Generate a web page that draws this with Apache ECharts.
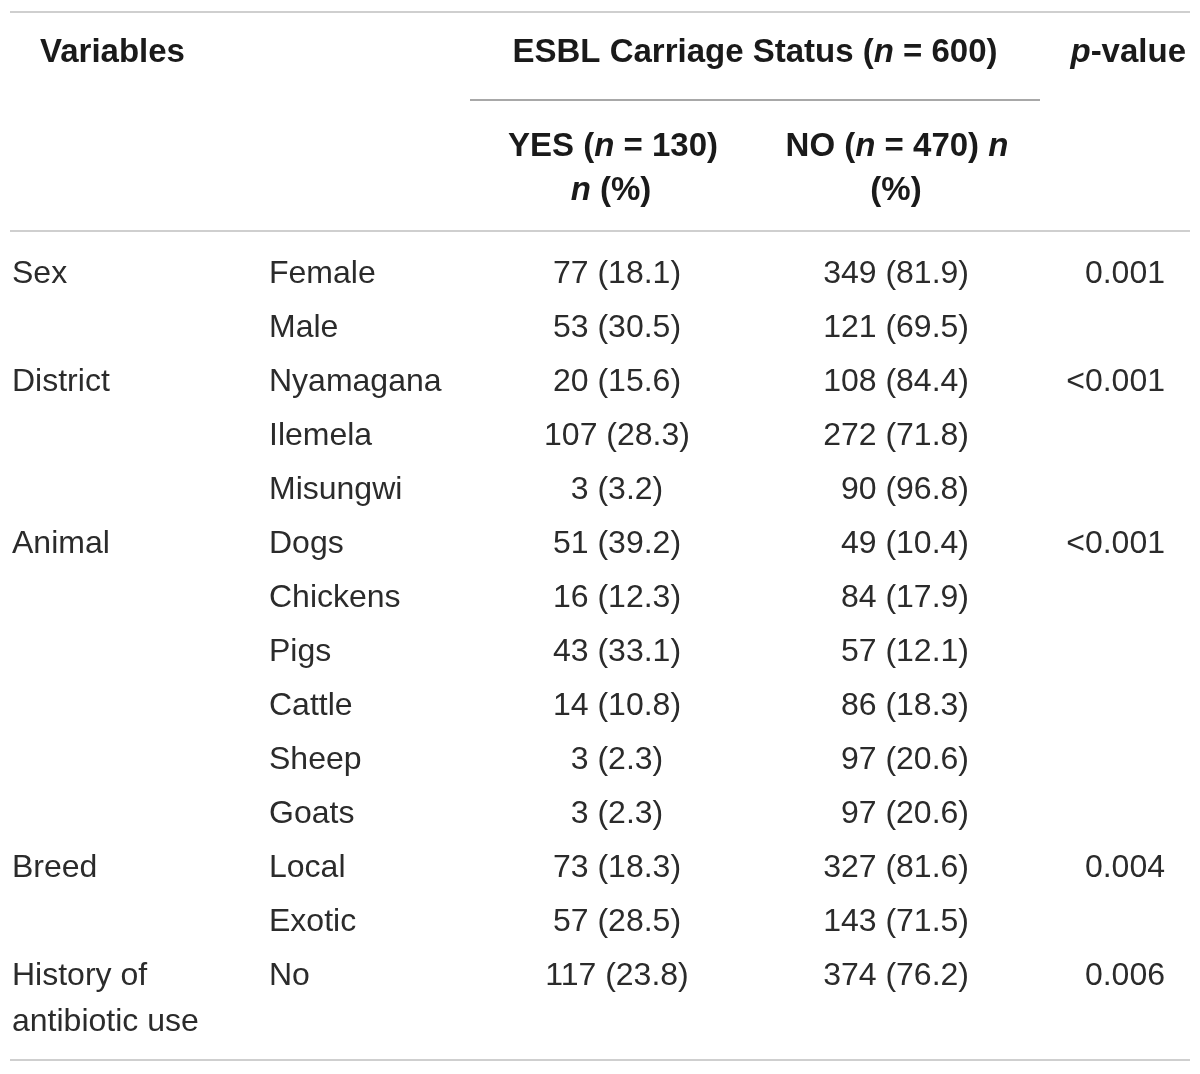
<!DOCTYPE html>
<html><head><meta charset="utf-8">
<script src="https://cdn.jsdelivr.net/npm/echarts@6/dist/echarts.min.js"></script>
<style>html,body{margin:0;padding:0;background:#fff}#c{width:1200px;height:1074px}</style>
</head><body><div id="c"></div>
<script>
// ---- data ----
const variables = ['Sex','','District','','','Animal','','','','','','Breed','','History of\nantibiotic use'];
const levels = ['Female','Male','Nyamagana','Ilemela','Misungwi','Dogs','Chickens','Pigs','Cattle','Sheep','Goats','Local','Exotic','No'];
const yesN   = [77,53,20,107,3,51,16,43,14,3,3,73,57,117];
const yesPct = ['18.1','30.5','15.6','28.3','3.2','39.2','12.3','33.1','10.8','2.3','2.3','18.3','28.5','23.8'];
const noN    = [349,121,108,272,90,49,84,57,86,97,97,327,143,374];
const noPct  = ['81.9','69.5','84.4','71.8','96.8','10.4','17.9','12.1','18.3','20.6','20.6','81.6','71.5','76.2'];
const pValues = ['0.001','','<0.001','','','<0.001','','','','','','0.004','','0.006'];

// ---- layout ----
const FONT = '"Liberation Sans", Arial, sans-serif';
const TXT = '#2b2b2b';
const FS = 32;
const rowIdx = levels.map((_, i) => i);
const colAnchor = {variable: 12, level: 269, yes: 617, no: 969, p: 1165};

function textSeries(name, x, texts, align) {
  return {
    name, type: 'scatter', symbolSize: 0, silent: true,
    itemStyle: {opacity: 1},
    data: texts.map((t, i) => ({value: [x, i], txt: t})),
    label: {
      show: true, position: [0, 0], align,
      verticalAlign: 'top', offset: [0, -23], lineHeight: 46,
      fontFamily: FONT, fontSize: FS, color: TXT, opacity: 1,
      formatter: p => p.data.txt
    }
  };
}

const chart = echarts.init(document.getElementById('c'), null, {renderer: 'canvas'});
const B = {fontFamily: FONT, fontSize: 33, fontWeight: 'bold', fill: '#1a1a1a'};
const BI = Object.assign({}, B, {fontStyle: 'italic'});
function hText(x, y, align, rich) {
  return {
    type: 'text', x, y, silent: true,
    style: Object.assign({}, B, {text: rich.text, rich: rich.rich, align, verticalAlign: 'middle'})
  };
}
const rule = (x1, x2, y, c) => ({type: 'line', silent: true, shape: {x1, y1: y, x2, y2: y}, style: {stroke: c, lineWidth: 2}});
const richB = {b: B, i: BI};

chart.setOption({
  animation: false,
  grid: {left: 0, right: 0, top: 247, height: 14 * 54, containLabel: false},
  xAxis: {type: 'value', min: 0, max: 1200, show: false},
  yAxis: {type: 'category', data: rowIdx, inverse: true, show: false},
  series: [
    textSeries('variable', colAnchor.variable, variables, 'left'),
    textSeries('level', colAnchor.level, levels, 'left'),
    textSeries('yes', colAnchor.yes, yesN.map((n, i) => n + ' (' + yesPct[i] + ')'), 'center'),
    textSeries('no', colAnchor.no, noN.map((n, i) => n + ' (' + noPct[i] + ')'), 'right'),
    textSeries('p', colAnchor.p, pValues, 'right')
  ],
  graphic: [
    rule(10, 1190, 12, '#cfcfcf'),
    rule(470, 1040, 100, '#a8a8a8'),
    rule(10, 1190, 231, '#cfcfcf'),
    rule(10, 1190, 1060, '#cfcfcf'),
    hText(40, 53, 'left', {text: '{b|Variables}', rich: richB}),
    hText(755, 53, 'center', {text: '{b|ESBL Carriage Status (}{i|n}{b| = 600)}', rich: richB}),
    hText(1186, 53, 'right', {text: '{i|p}{b|-value}', rich: richB}),
    hText(613, 147, 'center', {text: '{b|YES (}{i|n}{b| = 130)}', rich: richB}),
    hText(611, 191, 'center', {text: '{i|n}{b| (%)}', rich: richB}),
    hText(897, 147, 'center', {text: '{b|NO (}{i|n}{b| = 470) }{i|n}', rich: richB}),
    hText(896, 191, 'center', {text: '{b|(%)}', rich: richB})
  ]
});
</script></body></html>
